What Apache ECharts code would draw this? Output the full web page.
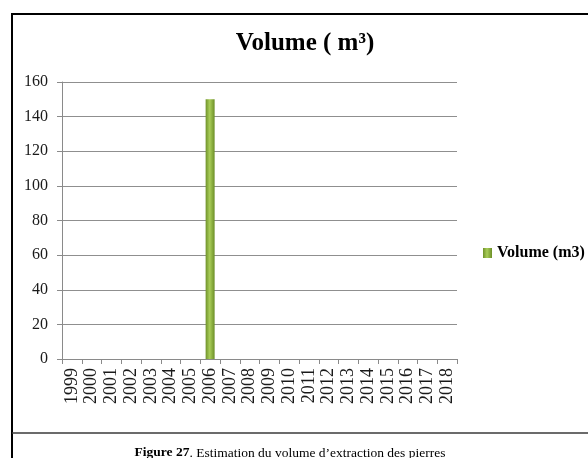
<!DOCTYPE html>
<html>
<head>
<meta charset="utf-8">
<script src="https://cdn.jsdelivr.net/npm/echarts@6/dist/echarts.min.js"></script>
<style>
  html, body { margin: 0; padding: 0; background: #fff; }
  #chart { width: 588px; height: 458px; }
</style>
</head>
<body>
<div id="chart"></div>
<script>
// Extraction volume per year (m3)
const years = ['1999','2000','2001','2002','2003','2004','2005','2006','2007','2008',
               '2009','2010','2011','2012','2013','2014','2015','2016','2017','2018'];
const volumes = [0, 0, 0, 0, 0, 0, 0, 150, 0, 0, 0, 0, 0, 0, 0, 0, 0, 0, 0, 0];
const yTicks = { min: 0, max: 160, step: 20 };

const seriesName = 'Volume (m3)';
const chartTitle = 'Volume ( m\u00B3)';
const captionBold = 'Figure 27';
const captionRest = '. Estimation du volume d\u2019extraction des pierres';

const serif = '"Liberation Serif", "Times New Roman", serif';

const barFill = new echarts.graphic.LinearGradient(0, 0, 1, 0, [
  { offset: 0, color: '#6f922a' },
  { offset: 0.45, color: '#a9cd58' },
  { offset: 1, color: '#6c8f27' }
]);

const chart = echarts.init(document.getElementById('chart'), null, { renderer: 'canvas' });

chart.setOption({
  backgroundColor: '#ffffff',
  animation: false,
  title: [
    {
      text: chartTitle,
      left: 300,
      top: 26,
      textAlign: 'center',
      textStyle: { fontFamily: serif, fontSize: 25, fontWeight: 'bold', color: '#000' }
    },
    {
      text: '{b|' + captionBold + '}{r|' + captionRest + '}',
      left: 285,
      top: 441,
      textAlign: 'center',
      textStyle: {
        fontWeight: 'normal',
        rich: {
          b: { fontFamily: serif, fontSize: 13.5, fontWeight: 'bold', color: '#000' },
          r: { fontFamily: serif, fontSize: 13.5, fontWeight: 'normal', color: '#000' }
        }
      }
    }
  ],
  legend: {
    data: [{ name: seriesName, icon: 'rect' }],
    orient: 'vertical',
    left: 478,
    top: 240,
    itemWidth: 9,
    itemHeight: 10,
    itemGap: 5,
    textStyle: { fontFamily: serif, fontSize: 16, fontWeight: 'bold', color: '#000', padding: [0, 0, 0, 0] }
  },
  grid: { left: 62, right: 131, top: 82, bottom: 99, containLabel: false },
  xAxis: {
    type: 'category',
    data: years,
    boundaryGap: true,
    axisLine: { lineStyle: { color: '#8a8a8a', width: 1 } },
    axisTick: { show: true, length: 5, lineStyle: { color: '#8a8a8a' } },
    axisLabel: {
      rotate: 90,
      margin: 9,
      interval: 0,
      fontFamily: serif,
      fontSize: 18,
      color: '#1a1a1a'
    },
    splitLine: { show: false }
  },
  yAxis: {
    type: 'value',
    min: yTicks.min,
    max: yTicks.max,
    interval: yTicks.step,
    axisLine: { show: true, lineStyle: { color: '#8a8a8a', width: 1 } },
    axisTick: { show: true, length: 5, lineStyle: { color: '#8a8a8a' } },
    axisLabel: { margin: 14, fontFamily: serif, fontSize: 16, color: '#1a1a1a' },
    splitLine: { show: true, lineStyle: { color: '#8f8f8f', width: 1 } }
  },
  series: [
    {
      name: seriesName,
      type: 'bar',
      data: volumes,
      barWidth: 9,
      itemStyle: { color: barFill }
    }
  ],
  graphic: [
    {
      type: 'rect',
      silent: true,
      shape: { x: 12, y: 14, width: 700, height: 520 },
      style: { fill: null, stroke: '#000', lineWidth: 2 }
    },
    {
      type: 'line',
      silent: true,
      shape: { x1: 12, y1: 433, x2: 600, y2: 433 },
      style: { stroke: '#3a3a3a', lineWidth: 1.5 }
    }
  ]
});
</script>
</body>
</html>
